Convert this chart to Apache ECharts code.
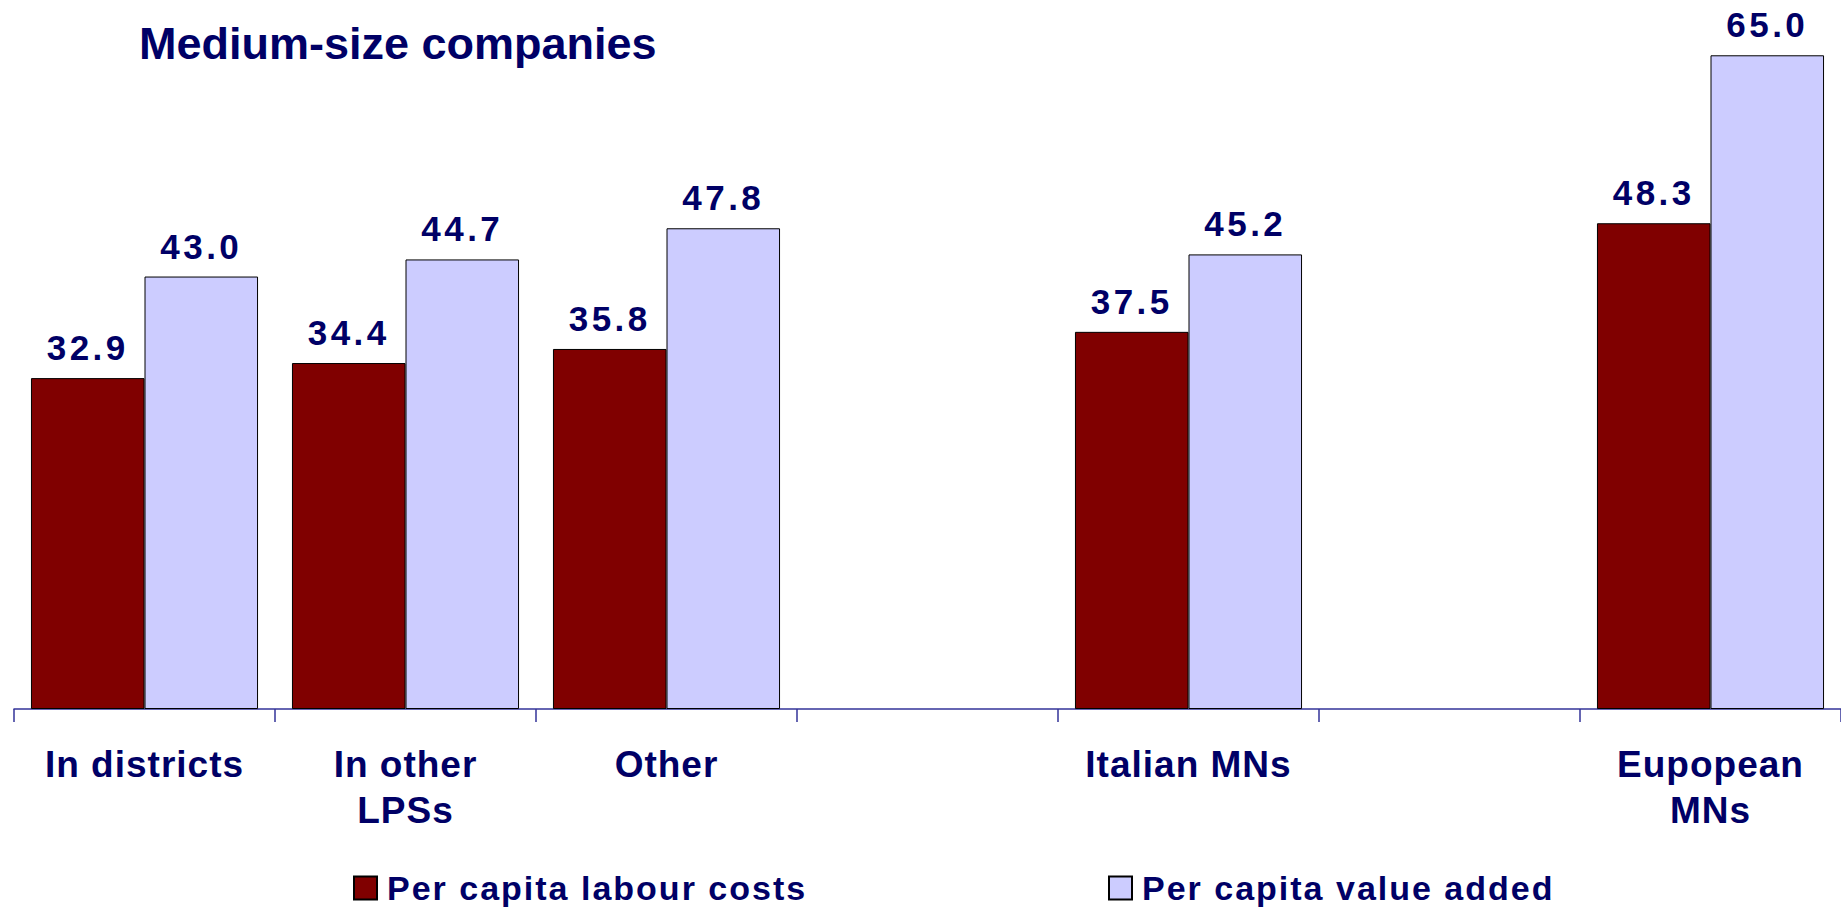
<html><head lang="en">
<meta charset="utf-8">
<title>Medium-size companies</title>
<script src="https://cdn.jsdelivr.net/npm/echarts@6/dist/echarts.min.js"></script>
<style>
  html, body { margin: 0; padding: 0; background: #fff; }
  #main { width: 1841px; height: 912px; }
  /* the original chart has loosely spaced bold text */
  #main text[style*="35px"] { letter-spacing: 3.5px; }
  #main text[style*="37px"] { letter-spacing: 1px; }
  #main text[style*="34px"] { letter-spacing: 2px; }
</style>
</head>
<body>
<div id="main"></div>
<script type="text/javascript">
// data
var categories = ['In districts', 'In other\nLPSs', 'Other', '', 'Italian MNs', '', 'Eupopean\nMNs'];
var labourCosts = [32.9, 34.4, 35.8, null, 37.5, null, 48.3];
var valueAdded = [43.0, 44.7, 47.8, null, 45.2, null, 65.0];
var seriesNames = ['Per capita labour costs', 'Per capita value added'];

var navy = '#000066';
var font = "'Liberation Sans', Arial, sans-serif";

var myChart = echarts.init(document.getElementById('main'), null, {renderer: 'svg'});

var valueLabel = {
    show: true,
    position: 'top',
    distance: 13,
    color: navy,
    fontFamily: font,
    fontWeight: 'bold',
    fontSize: 35,
    formatter: function (p) { return p.value.toFixed(1); }
};

var option = {
    animation: false,
    title: {
        text: 'Medium-size companies',
        left: 134,
        top: 16,
        textStyle: {color: navy, fontFamily: font, fontWeight: 'bold', fontSize: 45}
    },
    legend: [{
        data: [seriesNames[0]],
        left: 353, top: 871, padding: 0,
        itemWidth: 23, itemHeight: 23, icon: 'rect',
        textStyle: {color: navy, fontFamily: font, fontWeight: 'bold', fontSize: 34, padding: [0, 0, 0, 5]}
    }, {
        data: [seriesNames[1]],
        left: 1108, top: 871, padding: 0,
        itemWidth: 23, itemHeight: 23, icon: 'rect',
        textStyle: {color: navy, fontFamily: font, fontWeight: 'bold', fontSize: 34, padding: [0, 0, 0, 5]}
    }],
    grid: {left: 14, right: 0, top: 5, bottom: 203, containLabel: false},
    xAxis: {
        type: 'category',
        data: categories,
        axisLine: {lineStyle: {color: '#333399', width: 1.5}},
        axisTick: {show: true, length: 13, lineStyle: {color: '#333399', width: 1.5}},
        axisLabel: {
            interval: 0,
            margin: 32,
            color: navy,
            fontFamily: font,
            fontWeight: 'bold',
            fontSize: 37,
            lineHeight: 46
        }
    },
    yAxis: {
        type: 'value',
        min: 0,
        max: 70,
        show: false,
        splitLine: {show: false}
    },
    series: [{
        name: seriesNames[0],
        type: 'bar',
        data: labourCosts,
        barGap: '0%',
        barCategoryGap: '13%',
        itemStyle: {color: '#800000', borderColor: '#000000', borderWidth: 1},
        label: valueLabel
    }, {
        name: seriesNames[1],
        type: 'bar',
        data: valueAdded,
        barGap: '0%',
        barCategoryGap: '13%',
        itemStyle: {color: '#CCCCFF', borderColor: '#000000', borderWidth: 1},
        label: valueLabel
    }]
};

myChart.setOption(option);
</script>
</body>
</html>
